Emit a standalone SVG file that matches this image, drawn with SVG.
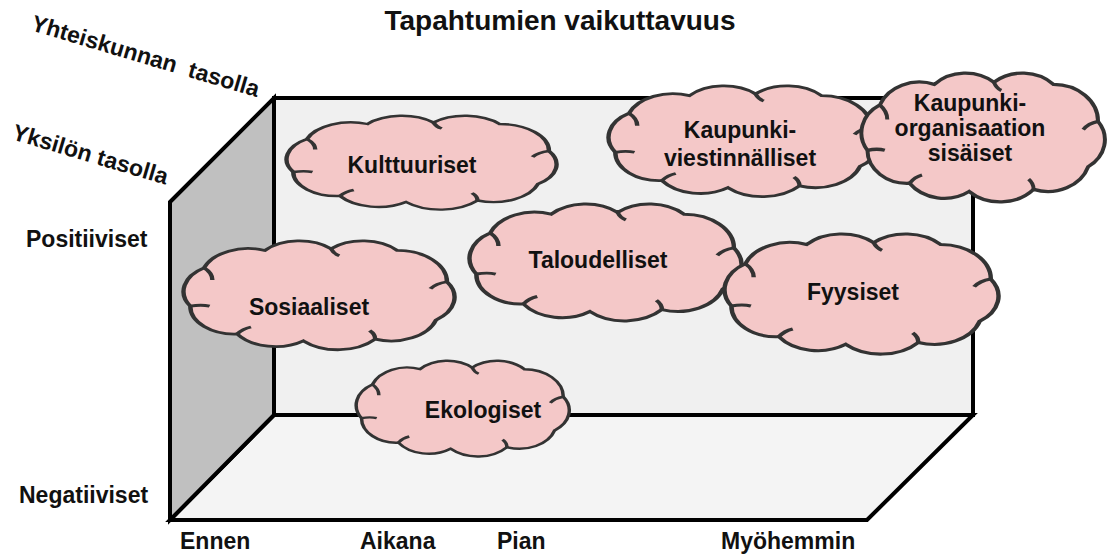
<svg xmlns="http://www.w3.org/2000/svg" width="1110" height="556" viewBox="0 0 1110 556">
<style>
text{font-family:"Liberation Sans",Arial,sans-serif;font-weight:bold;fill:#111;}
.lbl{font-size:23px;}
.ct{font-size:23px;text-anchor:middle;}
.rot{font-size:23px;white-space:pre;}
.box{stroke:#000;stroke-width:4;stroke-linejoin:miter;}
.cloud{fill:#f4c8c8;stroke:#333;stroke-width:1.6;}
.hint{fill:none;stroke:#333;stroke-width:1.6;}
</style>
<defs>
<path id="cl" d="M3,38 A16,16 0 0 1 8,16 A17,17 0 0 1 30,6 A17,17 0 0 1 54,5 A17,17 0 0 1 78,6 A18,18 0 0 1 96,24 A16,16 0 0 1 92,46 A17,17 0 0 1 70,57 A18,18 0 0 1 44,58 A17,17 0 0 1 20,54 A16,16 0 0 1 3,38 Z"/>
<path id="hn" d="M8,16 Q11,19 11,23 M96,24 Q92,25 90,28 M70,57 Q70,54 68,52 M20,54 Q22,51 25,50 M54,5 Q55,8 57,9 M3,38 Q7,37 10,38"/>
</defs>
<rect width="1110" height="556" fill="#fff"/>
<g id="title"><text x="560" y="30" style="font-size:28px;text-anchor:middle">Tapahtumien vaikuttavuus</text></g>
<g id="box">
<rect class="box" x="274" y="98" width="699" height="317" fill="#f0f0f0"/>
<polygon class="box" points="170,520 274,415 973,415 867,520" fill="#f4f4f4"/>
<polygon class="box" points="170,202 274,98 274,415 170,520" fill="#c0c0c0"/>
</g>
<g id="axis-labels">
<text class="rot" transform="translate(30,30) rotate(16.5)">Yhteiskunnan  tasolla</text>
<text class="rot" transform="translate(11,139) rotate(16.5)">Yksilön tasolla</text>
<text class="lbl" x="26" y="247">Positiiviset</text>
<text class="lbl" x="19" y="503">Negatiiviset</text>
<text class="lbl" x="180" y="549">Ennen</text>
<text class="lbl" x="360" y="549">Aikana</text>
<text class="lbl" x="497" y="549">Pian</text>
<text class="lbl" x="721" y="549">Myöhemmin</text>
</g>
<g id="kulttuuriset">
<g transform="translate(285,115) scale(2.75,1.5)"><use href="#cl" class="cloud" vector-effect="non-scaling-stroke"/><use href="#hn" class="hint" vector-effect="non-scaling-stroke"/></g>
<text class="ct" x="412" y="173">Kulttuuriset</text>
</g>
<g id="viestinnalliset">
<g transform="translate(607,85) scale(2.75,1.77)"><use href="#cl" class="cloud" vector-effect="non-scaling-stroke"/><use href="#hn" class="hint" vector-effect="non-scaling-stroke"/></g>
<text class="ct" x="740" y="138">Kaupunki-</text>
<text class="ct" x="740" y="166">viestinnälliset</text>
</g>
<g id="organisaatio">
<g transform="translate(860,72) scale(2.48,2.06)"><use href="#cl" class="cloud" vector-effect="non-scaling-stroke"/><use href="#hn" class="hint" vector-effect="non-scaling-stroke"/></g>
<text class="ct" x="970" y="111">Kaupunki-</text>
<text class="ct" x="970" y="136">organisaation</text>
<text class="ct" x="970" y="161">sisäiset</text>
</g>
<g id="taloudelliset">
<g transform="translate(468,203) scale(2.77,1.87)"><use href="#cl" class="cloud" vector-effect="non-scaling-stroke"/><use href="#hn" class="hint" vector-effect="non-scaling-stroke"/></g>
<text class="ct" x="598" y="268">Taloudelliset</text>
</g>
<g id="sosiaaliset">
<g transform="translate(182,240) scale(2.76,1.74)"><use href="#cl" class="cloud" vector-effect="non-scaling-stroke"/><use href="#hn" class="hint" vector-effect="non-scaling-stroke"/></g>
<text class="ct" x="309" y="315">Sosiaaliset</text>
</g>
<g id="fyysiset">
<g transform="translate(723,233) scale(2.79,1.92)"><use href="#cl" class="cloud" vector-effect="non-scaling-stroke"/><use href="#hn" class="hint" vector-effect="non-scaling-stroke"/></g>
<text class="ct" x="853" y="300">Fyysiset</text>
</g>
<g id="ekologiset">
<g transform="translate(355,360) scale(2.17,1.53)"><use href="#cl" class="cloud" vector-effect="non-scaling-stroke"/><use href="#hn" class="hint" vector-effect="non-scaling-stroke"/></g>
<text class="ct" x="483" y="418">Ekologiset</text>
</g>
<g id="connectors"></g>
</svg>
